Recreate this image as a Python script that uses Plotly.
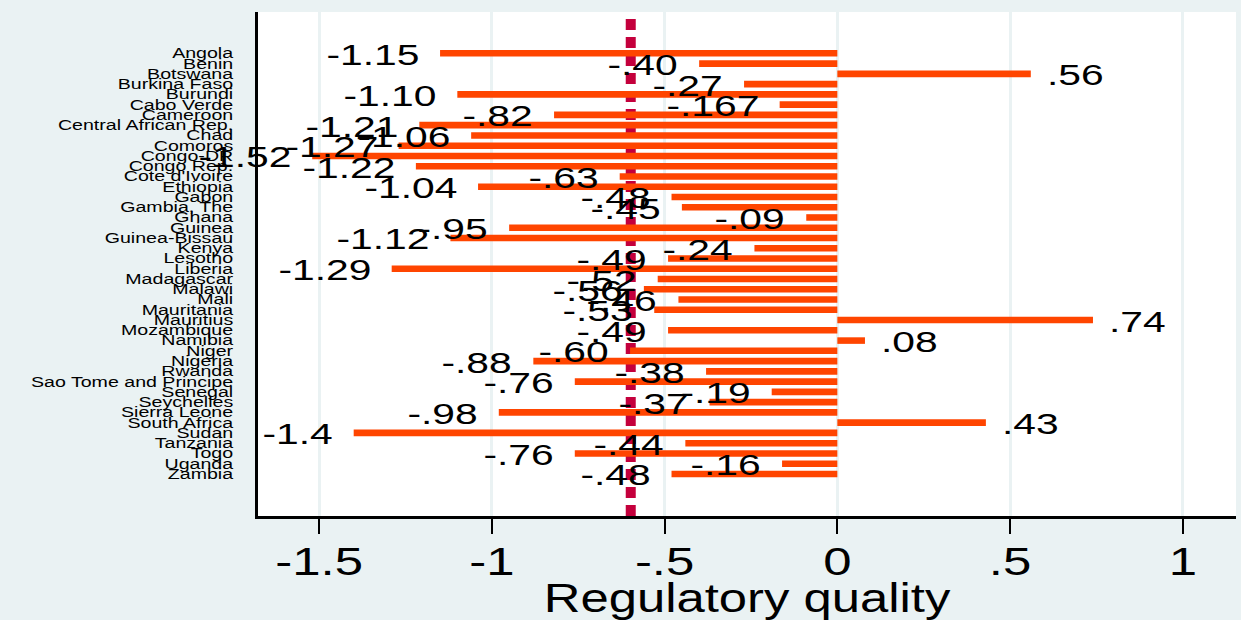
import plotly.graph_objects as go

countries = ["Angola", "Benin", "Botswana", "Burkina Faso", "Burundi", "Cabo Verde",
             "Cameroon", "Central African Rep.", "Chad", "Comoros", "Congo-DR",
             "Congo Rep.", "Cote d'Ivoire", "Ethiopia", "Gabon", "Gambia, The", "Ghana",
             "Guinea", "Guinea-Bissau", "Kenya", "Lesotho", "Liberia", "Madagascar",
             "Malawi", "Mali", "Mauritania", "Mauritius", "Mozambique", "Namibia",
             "Niger", "Nigeria", "Rwanda", "Sao Tome and Principe", "Senegal",
             "Seychelles", "Sierra Leone", "South Africa", "Sudan", "Tanzania", "Togo",
             "Uganda", "Zambia"]

values = [-1.15, -0.40, 0.56, -0.27, -1.10, -0.167, -0.82, -1.21, -1.06, -1.27, -1.52,
          -1.22, -0.63, -1.04, -0.48, -0.45, -0.09, -0.95, -1.12, -0.24, -0.49, -1.29,
          -0.52, -0.56, -0.46, -0.53, 0.74, -0.49, 0.08, -0.60, -0.88, -0.38, -0.76,
          -0.19, -0.37, -0.98, 0.43, -1.40, -0.44, -0.76, -0.16, -0.48]

value_labels = ["-1.15", "-.40", ".56", "-.27", "-1.10", "-.167", "-.82", "-1.21", "-1.06",
                "-1.27", "-1.52", "-1.22", "-.63", "-1.04", "-.48", "-.45", "-.09", "-.95",
                "-1.12", "-.24", "-.49", "-1.29", "-.52", "-.56", "-.46", "-.53", ".74",
                "-.49", ".08", "-.60", "-.88", "-.38", "-.76", "-.19", "-.37", "-.98", ".43",
                "-1.4", "-.44", "-.76", "-.16", "-.48"]

x_tickvals = [-1.5, -1, -0.5, 0, 0.5, 1]
x_ticktext = ["-1.5", "-1", "-.5", "0", ".5", "1"]

ref_value = sum(values) / len(values)

FONT = "Liberation Sans, Arial, Helvetica, sans-serif"
BG = "#eaf2f3"
BAR = "#ff4500"
REF = "#c4003c"

fig = go.Figure()
fig.add_trace(go.Bar(
    x=values, y=countries, orientation="h", width=0.64,
    marker=dict(color=BAR, line=dict(width=0)), hoverinfo="x+y", showlegend=False,
))

annotations = []
for c, v, lab in zip(countries, values, value_labels):
    annotations.append(dict(
        x=v, y=c, xref="x", yref="y", text=lab, showarrow=False,
        xanchor="right" if v < 0 else "left", yanchor="middle",
        xshift=-19 if v < 0 else 14, yshift=-1,
        font=dict(family=FONT, size=30, color="black"),
    ))

fig.add_shape(type="line", xref="x", yref="paper", x0=ref_value, x1=ref_value, y0=0, y1=1,
              line=dict(color=REF, width=10, dash="11px,7px"), layer="between")

fig.update_layout(
    width=1241, height=620,
    margin=dict(l=258, r=5, t=12, b=104, autoexpand=False),
    paper_bgcolor=BG, plot_bgcolor="white",
    annotations=annotations,
    xaxis=dict(
        range=[-1.677, 1.154], tickvals=x_tickvals, ticktext=x_ticktext,
        automargin=False,
        showgrid=True, gridcolor=BG, gridwidth=3, zeroline=False,
        showline=True, linecolor="black", linewidth=3,
        ticks="outside", ticklen=15, tickwidth=2, tickcolor="black",
        ticklabelstandoff=-5,
        tickfont=dict(family=FONT, size=38, color="black"),
        title=dict(text="Regulatory quality", standoff=9,
                   font=dict(family=FONT, size=40, color="black")),
    ),
    yaxis=dict(
        type="category", categoryorder="array", categoryarray=countries,
        tickmode="array", tickvals=countries, ticktext=countries,
        automargin=False,
        range=[45.1, -4.03], showgrid=False, zeroline=False,
        showline=True, linecolor="black", linewidth=3,
        ticks="outside", ticklen=19, tickcolor="rgba(0,0,0,0)",
        tickfont=dict(family=FONT, size=14, color="black"),
    ),
)

# Stata export is horizontally stretched: widen the text glyphs around their anchors.
post_js = """
document.body.style.margin = '0px';
var gd = document.getElementById('{plot_id}');
function stretch(t, s, anchor) {
  var b = t.getBBox();
  var ax = anchor === 'left' ? b.x : (anchor === 'right' ? b.x + b.width : b.x + b.width / 2);
  var tr = t.getAttribute('transform') || '';
  t.setAttribute('transform', tr + ' translate(' + ax + ',0) scale(' + s + ',1) translate(' + (-ax) + ',0)');
}
gd.querySelectorAll('g.annotation').forEach(function (g) {
  var i = +g.getAttribute('data-index');
  var a = gd.layout.annotations[i];
  var t = g.querySelector('text');
  if (t) { stretch(t, 1.36, a.xanchor); }
});
gd.querySelectorAll('g.ytick text').forEach(function (t) { stretch(t, 1.4, 'right'); });
gd.querySelectorAll('g.xtick text').forEach(function (t) { stretch(t, 1.34, 'middle'); });
gd.querySelectorAll('text.xtitle').forEach(function (t) { stretch(t, 1.27, 'middle'); });
"""

fig.write_html("out.html", post_script=post_js, config={"displayModeBar": False})
